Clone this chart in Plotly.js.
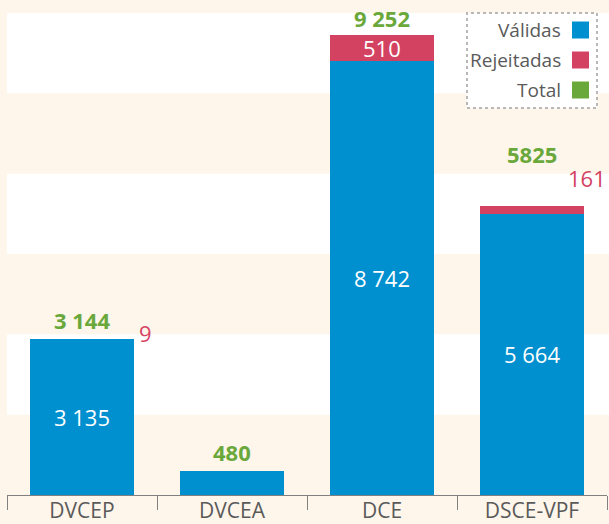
<!DOCTYPE html>
<html>
<head>
<meta charset="utf-8">
<script src="https://cdn.plot.ly/plotly-3.0.1.min.js"></script>
<style>
html,body{margin:0;padding:0;background:#fef6eb;}
#chart{width:609px;height:524px;}
</style>
</head>
<body>
<div id="chart"></div>
<script>
const categories = ['DVCEP', 'DVCEA', 'DCE', 'DSCE-VPF'];
const validas = [3135, 480, 8742, 5664];
const rejeitadas = [9, 0, 510, 161];
const totals = [3144, 480, 9252, 5825];
const validasLabels = ['3 135', '', '8 742', '5 664'];
const rejeitadasLabels = ['9', '', '510', '161'];
const totalLabels = ['3 144', '480', '9 252', '5825'];
const legendNames = ['Válidas', 'Rejeitadas', 'Total'];

const BLUE = '#0090cf', RED = '#d44262', GREEN = '#6aa83c', CREAM = '#fef6eb', GRAY = '#5a5a5a';
const FONT = 'Open Sans, DejaVu Sans, sans-serif';
const legendColors = [BLUE, RED, GREEN];

const traces = [
  {type: 'bar', x: categories, y: validas, marker: {color: BLUE}, hoverinfo: 'none', showlegend: false, name: legendNames[0]},
  {type: 'bar', x: categories, y: rejeitadas, marker: {color: RED}, hoverinfo: 'none', showlegend: false, name: legendNames[1]}
];

const totalShift = [2, 2, 0, 35];
const annotations = [];
categories.forEach((c, i) => {
  if (validasLabels[i]) annotations.push({x: c, y: validas[i] / 2, text: validasLabels[i], showarrow: false,
    font: {family: FONT, size: 22, color: '#ffffff'}, yanchor: 'middle'});
  annotations.push({x: c, y: totals[i], text: '<b>' + totalLabels[i] + '</b>', showarrow: false,
    font: {family: FONT, size: 22, color: GREEN}, yanchor: 'bottom', yshift: totalShift[i]});
});
// rejected labels
annotations.push({x: categories[0], y: totals[0], text: rejeitadasLabels[0], showarrow: false, xanchor: 'left', xshift: 55,
  yanchor: 'middle', yshift: 6, font: {family: FONT, size: 22, color: RED}});
annotations.push({x: categories[2], y: validas[2] + rejeitadas[2] / 2, text: rejeitadasLabels[2], showarrow: false,
  yanchor: 'middle', font: {family: FONT, size: 22, color: '#ffffff'}});
annotations.push({x: categories[3], y: totals[3], text: rejeitadasLabels[3], showarrow: false, xanchor: 'left', xshift: 34,
  yanchor: 'middle', yshift: 28, font: {family: FONT, size: 22, color: RED}});

// plot area: x 7..607, y 13..495
const L = 7, R = 607, T = 13, B = 495;
const px = v => (v - L) / (R - L);
const py = v => (B - v) / (B - T);

const shapes = [];
[[1/6, 2/6], [3/6, 4/6], [5/6, 1]].forEach(b => shapes.push({type: 'rect', xref: 'paper', yref: 'paper',
  x0: 0, x1: 1.01, y0: b[0], y1: b[1], fillcolor: '#ffffff', line: {width: 0}, layer: 'below'}));
// legend box
shapes.push({type: 'rect', xref: 'paper', yref: 'paper', x0: px(467), x1: px(597), y0: py(108), y1: py(13),
  fillcolor: '#ffffff', line: {color: '#b8b8b8', width: 2, dash: 'dot'}, layer: 'above'});
const rowY = [30, 60, 90];
legendNames.forEach((n, i) => {
  shapes.push({type: 'rect', xref: 'paper', yref: 'paper', x0: px(572), x1: px(589), y0: py(rowY[i] + 8.5), y1: py(rowY[i] - 8.5),
    fillcolor: legendColors[i], line: {width: 0}, layer: 'above'});
  annotations.push({xref: 'paper', yref: 'paper', x: px(563), y: py(rowY[i]), xanchor: 'right', yanchor: 'middle',
    text: n, showarrow: false, font: {family: FONT, size: 19, color: GRAY}});
});

const layout = {
  width: 609, height: 524,
  margin: {l: L, r: 609 - R, t: T, b: 524 - B},
  paper_bgcolor: CREAM, plot_bgcolor: CREAM,
  barmode: 'stack', bargap: 0.31,
  showlegend: false,
  xaxis: {type: 'category', range: [-0.5, 3.5], showline: true, linecolor: '#808080', linewidth: 1,
    ticks: 'outside', tickson: 'boundaries', ticklen: 14, tickcolor: '#808080', tickwidth: 1,
    ticklabelstandoff: -3, showgrid: false, zeroline: false,
    tickfont: {family: FONT, size: 21, color: GRAY}, fixedrange: true},
  yaxis: {range: [0, 9700], visible: false, showgrid: false, zeroline: false, fixedrange: true},
  shapes: shapes,
  annotations: annotations,
  font: {family: FONT}
};

Plotly.newPlot('chart', traces, layout, {displayModeBar: false, staticPlot: true});
</script>
</body>
</html>
